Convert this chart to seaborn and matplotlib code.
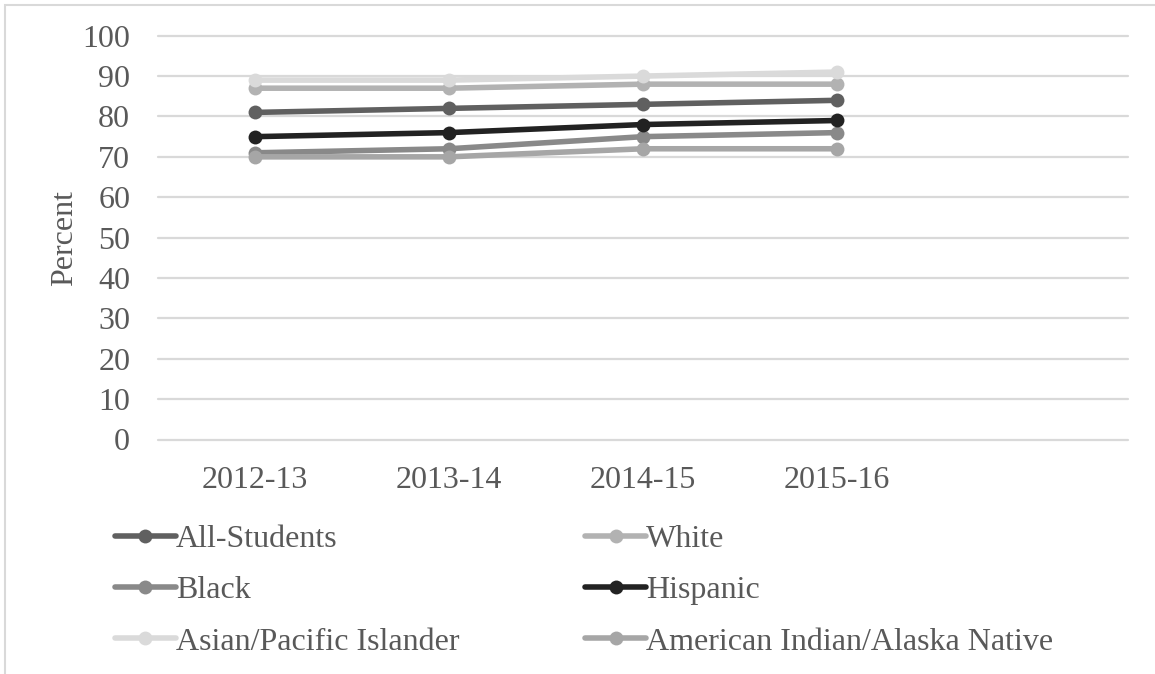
import matplotlib
matplotlib.use("Agg")
import matplotlib.pyplot as plt
from matplotlib.lines import Line2D
from matplotlib.patches import Rectangle
import seaborn as sns
import pandas as pd

# School years on the x axis (one empty slot kept at the right, as in the workbook chart)
years = ["2012-13", "2013-14", "2014-15", "2015-16"]
n_slots = 5

groups = ["All-Students", "White", "Black", "Hispanic",
          "Asian/Pacific Islander", "American Indian/Alaska Native"]

all_students = [81, 82, 83, 84]
white = [87, 87, 88, 88]
black = [71, 72, 75, 76]
hispanic = [75, 76, 78, 79]
asian_pi = [89, 89, 90, 91]
am_indian = [70, 70, 72, 72]

colors = {
    "All-Students": "#606060",
    "White": "#b2b2b2",
    "Black": "#898989",
    "Hispanic": "#222222",
    "Asian/Pacific Islander": "#dadada",
    "American Indian/Alaska Native": "#a6a6a6",
}

series = [all_students, white, black, hispanic, asian_pi, am_indian]
rows = []
for g, vals in zip(groups, series):
    for y, v in zip(years, vals):
        rows.append({"year": y, "pct": v, "group": g})
df = pd.DataFrame(rows)

sns.set_theme(style="white")
plt.rcParams["font.family"] = ["Liberation Serif", "DejaVu Serif"]
text_color = "#595959"
fs = 23

W, H = 1155, 674
fig = plt.figure(figsize=(W / 100, H / 100), dpi=100)
fig.patch.set_facecolor("white")

# Chart-area border (top and left edges visible)
fig.patches.append(Rectangle((5 / W, -0.1), 1.2, 1 - 5 / H + 0.1,
                             transform=fig.transFigure, fill=False,
                             edgecolor="#d9d9d9", linewidth=1.5))

left, right, top, bottom = 158, 1128, 35.7, 439.5
ax = fig.add_axes([left / W, 1 - bottom / H, (right - left) / W, (bottom - top) / H])

sns.lineplot(data=df, x="year", y="pct", hue="group", hue_order=groups,
             palette=colors, marker="o", markersize=10, markeredgewidth=0,
             linewidth=4, legend=False, sort=False, ax=ax)

ax.set_xlim(-0.5, n_slots - 0.5)
ax.set_ylim(0, 100)
ax.set_yticks(range(0, 101, 10))
ax.set_xticks(range(len(years)))
ax.set_xticklabels(years)
ax.grid(axis="y", color="#d9d9d9", linewidth=1.6)
for gl in ax.get_ygridlines():
    gl.set_clip_on(False)
ax.set_axisbelow(True)
for s in ax.spines.values():
    s.set_visible(False)
ax.tick_params(axis="y", length=0, pad=20, labelsize=fs, labelcolor=text_color)
ax.tick_params(axis="x", length=0, pad=19, labelsize=fs, labelcolor=text_color)
ax.set_xlabel("")
ax.set_ylabel("Percent", fontsize=fs, color=text_color, labelpad=2)

# Legend laid out row by row in two columns
order = [0, 2, 4, 1, 3, 5]
handles = [Line2D([0], [0], color=colors[groups[i]], linewidth=4, marker="o",
                  markersize=10, markeredgewidth=0) for i in order]
labels = [groups[i] for i in order]
fig.legend(handles, labels, ncol=2, loc="upper left",
           bbox_to_anchor=(115 / W, 1 - 525 / H), frameon=False,
           fontsize=fs, labelcolor=text_color, handlelength=1.9,
           handletextpad=0.0, columnspacing=3.95, labelspacing=0.68,
           borderpad=0, borderaxespad=0)

fig.savefig("out.png", dpi=100)
